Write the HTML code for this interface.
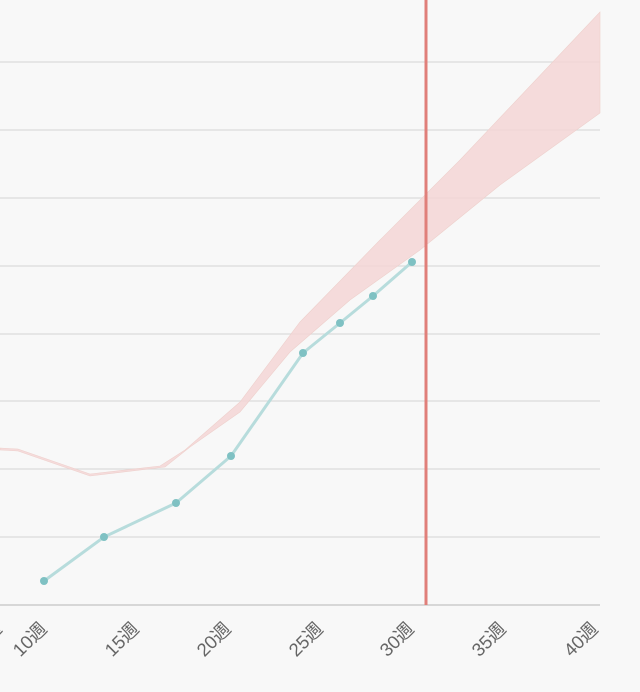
<!DOCTYPE html><html><head><meta charset="utf-8"><style>body{margin:0;background:#f8f8f8}svg{display:block}</style></head><body>
<svg width="640" height="692" xmlns="http://www.w3.org/2000/svg">
<rect width="640" height="692" fill="#f8f8f8"/>
<g stroke="#dcdcdc" stroke-width="1.2">
<line x1="0" y1="62" x2="600" y2="62"/><line x1="0" y1="130" x2="600" y2="130"/><line x1="0" y1="198" x2="600" y2="198"/><line x1="0" y1="266" x2="600" y2="266"/><line x1="0" y1="334" x2="600" y2="334"/><line x1="0" y1="401" x2="600" y2="401"/><line x1="0" y1="469" x2="600" y2="469"/><line x1="0" y1="537" x2="600" y2="537"/>
</g>
<line x1="0" y1="605" x2="600" y2="605" stroke="#ccc" stroke-width="1.5"/>
<polygon fill="#f4d6d6" fill-opacity="0.85" stroke="#eed0cc" stroke-width="0.6" points="0,448 18,449 90,474 160,466 185,450 240,402 300,322 380,240 460,160 600,12 600,113 500,185 420,250 350,300 290,352 240,412 190,447 165,467 90,476 18,451 0,450"/>
<polyline fill="none" stroke="#b7dcdc" stroke-width="3" points="44,581 104,537 176,503 231,456 303,353 340,323 373,296 412,262"/>
<g fill="#7fc1c3"><circle cx="44" cy="581" r="4"/><circle cx="104" cy="537" r="4"/><circle cx="176" cy="503" r="4"/><circle cx="231" cy="456" r="4"/><circle cx="303" cy="353" r="4"/><circle cx="340" cy="323" r="4"/><circle cx="373" cy="296" r="4"/><circle cx="412" cy="262" r="4"/></g>
<line x1="426" y1="0" x2="426" y2="605" stroke="#e07f7a" stroke-width="3"/>
<g font-family="Liberation Sans, Noto Sans CJK JP, sans-serif" font-size="18.5" fill="#666" text-anchor="end">
<text transform="translate(3,630) rotate(-45)">5週</text>
<text transform="translate(48,630) rotate(-45)">10週</text>
<text transform="translate(140,630) rotate(-45)">15週</text>
<text transform="translate(232,630) rotate(-45)">20週</text>
<text transform="translate(324,630) rotate(-45)">25週</text>
<text transform="translate(415,630) rotate(-45)">30週</text>
<text transform="translate(507,630) rotate(-45)">35週</text>
<text transform="translate(599,630) rotate(-45)">40週</text>
</g>
</svg></body></html>
